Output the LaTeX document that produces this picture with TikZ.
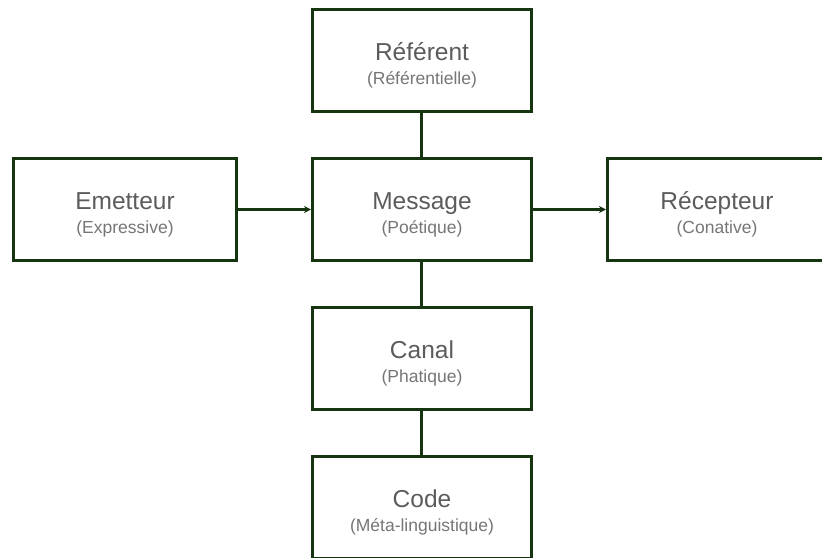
\documentclass[tikz,border=0pt]{standalone}
\usepackage{fontspec}
\setmainfont{Liberation Sans}
\usepackage{xcolor}
\usetikzlibrary{positioning,arrows.meta}

\definecolor{boxgreen}{RGB}{22,52,16}
\definecolor{titlegray}{RGB}{92,92,92}
\definecolor{subgray}{RGB}{118,118,118}

\newcommand{\fonction}[2]{%
  {\fontsize{24.5}{24}\selectfont\color{titlegray}\rule{0pt}{28.5pt}#1}\\
  {\fontsize{17.5}{24}\selectfont\color{subgray}(#2)}}

\begin{document}
\begin{tikzpicture}[node distance=44pt and 73pt]
  \tikzstyle{bloc}=[rectangle,draw=boxgreen,line width=3pt,fill=white,
    minimum width=219pt,minimum height=102pt,align=center,
    font=\fontsize{17.5}{24}\selectfont]
  \tikzstyle{lien}=[draw=boxgreen,line width=3pt]
  \useasboundingbox (-422pt,209.5pt) rectangle (400pt,-347.5pt);
  \clip (-422pt,209.5pt) rectangle (400pt,-347.5pt);
  \node(message)[bloc]{\fonction{Message}{Poétique}};
  \node(referent)[bloc,above=of message]{\fonction{Référent}{Référentielle}};
  \node(emetteur)[bloc,left=of message,minimum width=223pt]{\fonction{Emetteur}{Expressive}};
  \node(recepteur)[bloc,right=of message]{\fonction{Récepteur}{Conative}};
  \node(canal)[bloc,below=of message]{\fonction{Canal}{Phatique}};
  \node(code)[bloc,below=of canal]{\fonction{Code}{Méta-linguistique}};
  \draw[lien,-{Stealth[length=7pt,width=7pt]}] (emetteur) -- (message);
  \draw[lien,-{Stealth[length=7pt,width=7pt]}] (message) -- (recepteur);
  \draw[lien] (referent) -- (message);
  \draw[lien] (message) -- (canal);
  \draw[lien] (canal) -- (code);
\end{tikzpicture}
\end{document}
